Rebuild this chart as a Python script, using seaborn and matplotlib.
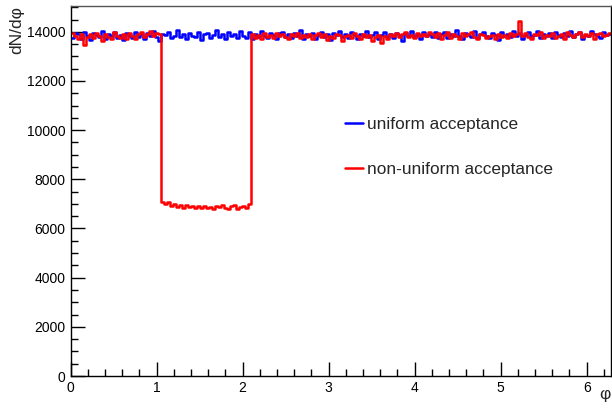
import numpy as np
import pandas as pd
import matplotlib
matplotlib.use("Agg")
import matplotlib.pyplot as plt
from matplotlib.ticker import MultipleLocator
import seaborn as sns

# histogram settings: 180 bins over [0, 2pi]
n_bins = 180
phi_max = 2 * np.pi

# dN/dphi per bin
uniform_vals = [
    13760, 13950, 13900, 13700, 14010, 13830, 13680, 13940, 13890, 13790, 14050, 13720, 13920, 13810, 13990, 13760, 13880, 13650, 13960, 13850,
    13740, 14000, 13800, 13900, 13690, 13950, 13820, 14020, 13770, 13620, 13910, 13860, 13980, 13730, 13840, 14060, 13790, 13900, 13710, 13970,
    13830, 13770, 14000, 13680, 13910, 13960, 13750, 13880, 14090, 13800, 13900, 13700, 13990, 13810, 13930, 13740, 14020, 13850, 13760, 13990,
    13720, 13920, 13800, 14030, 13840, 13750, 13960, 13870, 13690, 13940, 14010, 13780, 13900, 13730, 13970, 13830, 14060, 13710, 13910, 13820,
    13960, 13720, 13860, 14000, 13770, 13900, 13670, 13950, 13870, 14030, 13800, 13920, 13750, 13990, 13860, 13690, 13930, 13840, 14050, 13780,
    13890, 13980, 13710, 13860, 14000, 13800, 13920, 13740, 13960, 13870, 13630, 13950, 13830, 14040, 13780, 13910, 13710, 13980, 13850, 13930,
    13800, 14010, 13760, 13900, 13990, 13730, 13930, 13850, 14080, 13820, 13700, 13960, 13880, 13790, 14030, 13760, 13910, 14000, 13850, 13740,
    13950, 13870, 13650, 13990, 13830, 13920, 13780, 14040, 13850, 13950, 13720, 13870, 13980, 13810, 13890, 14030, 13760, 13930, 13820, 13970,
    13730, 14000, 13870, 13790, 13950, 13850, 14040, 13780, 13910, 13980, 13700, 13890, 13810, 14020, 13930, 13830, 13760, 13990, 13860, 13910,
]

nonuniform_vals = [
    13950, 13830, 13700, 13910, 13450, 13780, 13900, 13740, 13960, 13850, 13640, 13920, 13800, 13710, 13990, 13840, 13760, 13910, 13720, 13960,
    13810, 13700, 13930, 14000, 13780, 13900, 14040, 13850, 13970, 13910, 7080, 7000, 7060, 6920, 7010, 6880, 6970, 6850, 6940, 6870,
    6930, 6820, 6900, 6840, 6920, 6830, 6890, 6800, 6910, 6860, 6950, 6840, 6800, 6920, 6960, 6810, 6890, 6930, 6850, 6990,
    13920, 13750, 13860, 13710, 13940, 13800, 13870, 13730, 13960, 13820, 13900, 13770, 13690, 13930, 13840, 13970, 13750, 13880, 13800, 13920,
    13710, 13860, 13950, 13780, 13900, 13680, 13830, 13750, 13920, 13860, 13640, 13810, 13890, 13740, 13960, 13840, 13700, 13920, 13800, 13880,
    13620, 13770, 13870, 13550, 13810, 13720, 13910, 13840, 13950, 13780, 13900, 13990, 13790, 13880, 13740, 13970, 13850, 13920, 13820, 14010,
    13900, 13780, 13950, 13710, 13860, 13980, 13760, 13920, 13840, 13700, 13950, 13810, 13900, 13990, 13780, 13710, 13930, 13860, 13740, 13810,
    13880, 13690, 13930, 13770, 13860, 13740, 13970, 13820, 13900, 14450, 13840, 13950, 13790, 13710, 13920, 13860, 13980, 13750, 13880, 13820,
    13940, 13740, 13850, 13920, 13710, 13980, 13860, 13790, 13930, 14000, 13780, 13900, 13820, 13950, 13720, 13910, 13970, 13840, 13890, 13950,
]

labels = ["uniform acceptance", "non-uniform acceptance"]
colors = ["#0000ff", "#ff0000"]

edges = np.linspace(0, phi_max, n_bins + 1)
centers = 0.5 * (edges[:-1] + edges[1:])
df = pd.DataFrame({
    "phi": np.concatenate([centers, centers]),
    "w": uniform_vals + nonuniform_vals,
    "sample": [labels[0]] * n_bins + [labels[1]] * n_bins,
})

sns.set_style("white")
plt.rcParams["font.family"] = ["Liberation Sans", "DejaVu Sans"]

fig = plt.figure(figsize=(6.12, 4.08), dpi=100)
ax = fig.add_axes([0.1152, 0.0784, 0.8832, 0.9069])

for lab, col in zip(labels, colors):
    sub = df[df["sample"] == lab]
    sns.histplot(data=sub, x="phi", weights="w", bins=n_bins, binrange=(0, phi_max),
                 element="step", fill=False, color=col, linewidth=1.8, ax=ax, label=lab)

ax.set_xlim(0, phi_max)
ax.set_ylim(0, 15050)
ax.xaxis.set_major_locator(MultipleLocator(1))
ax.xaxis.set_minor_locator(MultipleLocator(0.2))
ax.yaxis.set_major_locator(MultipleLocator(2000))
ax.yaxis.set_minor_locator(MultipleLocator(500))
ax.tick_params(which="both", direction="in", bottom=True, left=True, top=False, right=False,
               labelsize=10, width=1, colors="black")
ax.tick_params(which="major", length=10)
ax.tick_params(which="minor", length=5)
for s in ax.spines.values():
    s.set_color("black")
    s.set_linewidth(1)
ax.spines["top"].set_color("#555555")

ax.set_xlabel("φ", fontsize=12.5, loc="right", labelpad=-6)
ax.set_ylabel("dN/dφ", fontsize=12.5, loc="top", labelpad=2)

leg = ax.legend(loc="center left", bbox_to_anchor=(345 / 612, 1 - 147 / 408),
                bbox_transform=fig.transFigure, frameon=False, fontsize=12.4,
                handlelength=1.05, handletextpad=0.25, labelspacing=1.74,
                borderpad=0, borderaxespad=0)

fig.savefig("out.png", dpi=100)
